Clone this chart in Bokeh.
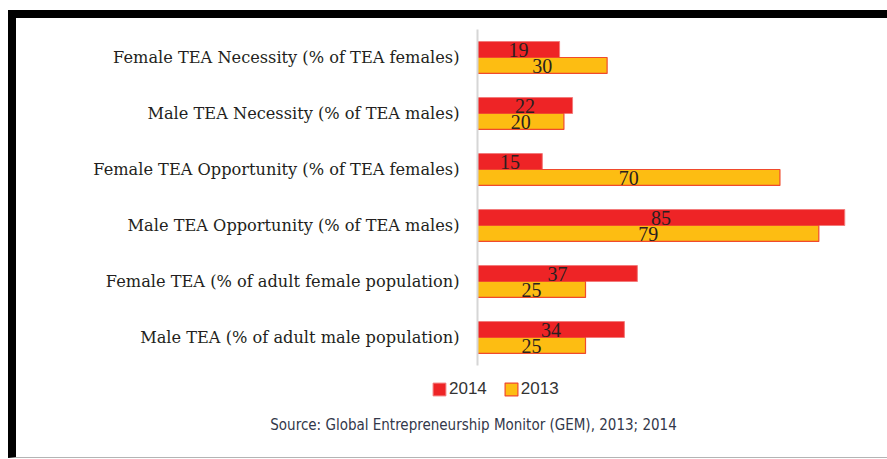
from bokeh.plotting import figure
from bokeh.layouts import column
from bokeh.models import (FactorRange, Range1d, ColumnDataSource, Legend, LegendItem, Label)
from bokeh.transform import dodge
from bokeh.core.properties import value
from bokeh.embed import file_html
from bokeh.resources import INLINE

categories = [
    "Female TEA Necessity (% of TEA females)",
    "Male TEA Necessity (% of TEA males)",
    "Female TEA Opportunity (% of TEA females)",
    "Male TEA Opportunity (% of TEA males)",
    "Female TEA (% of adult female population)",
    "Male TEA (% of adult male population)",
]
values_2014 = [19, 22, 15, 85, 37, 34]
values_2013 = [30, 20, 70, 79, 25, 25]
series_names = ["2014", "2013"]
source_text = "Source: Global Entrepreneurship Monitor (GEM), 2013; 2014"

RED = "#ee2426"
YELLOW = "#fdbd12"
EDGE = "#f04a2c"

src = ColumnDataSource(dict(
    cat=categories,
    v14=values_2014,
    v13=values_2013,
    h14=[v / 2 for v in values_2014],
    h13=[v / 2 for v in values_2013],
    t14=[str(v) for v in values_2014],
    t13=[str(v) for v in values_2013],
))

W = 871
H1, H2 = 352, 87

# ---- main bar chart ----
p = figure(width=W, height=H1, output_backend="svg", toolbar_location=None,
           x_axis_location=None,
           y_range=FactorRange(*list(reversed(categories)), range_padding=0),
           x_range=Range1d(0, 90.5),
           min_border_left=461, min_border_right=19, min_border_top=11, min_border_bottom=5)
p.frame_align = False

bw = 0.285
p.hbar(y=dodge("cat", bw / 2, range=p.y_range), right="v14", left=0, height=bw,
       source=src, fill_color=RED, line_color="#f37a7a", line_width=1)
p.hbar(y=dodge("cat", -bw / 2, range=p.y_range), right="v13", left=0, height=bw,
       source=src, fill_color=YELLOW, line_color=EDGE, line_width=1.2)

p.text(x="h14", y=dodge("cat", bw / 2 - 0.01, range=p.y_range), text="t14", source=src,
       text_align="center", text_baseline="middle", text_font=value("Liberation Serif"),
       text_font_size="20px", text_color="#2a2020")
p.text(x="h13", y=dodge("cat", -bw / 2 - 0.01, range=p.y_range), text="t13", source=src,
       text_align="center", text_baseline="middle", text_font=value("Liberation Serif"),
       text_font_size="20px", text_color="#2a2020")

p.xgrid.visible = False
p.ygrid.visible = False
p.outline_line_color = None
yax = p.yaxis[0]
yax.axis_line_color = "#d6d6d6"
yax.axis_line_width = 2
yax.major_tick_line_color = None
yax.minor_tick_line_color = None
yax.major_label_standoff = 12
yax.major_label_text_font = "DejaVu Serif"
yax.major_label_text_font_size = "16.2px"
yax.major_label_text_color = "#231f20"

# ---- legend + source strip ----
p2 = figure(width=W, height=H2, output_backend="svg", toolbar_location=None,
            x_axis_location=None, y_axis_location=None,
            x_range=Range1d(0, W), y_range=Range1d(0, H2),
            min_border_left=0, min_border_right=0, min_border_top=0, min_border_bottom=0)
p2.frame_align = False
p2.xgrid.visible = False
p2.ygrid.visible = False
p2.outline_line_color = None
key_src = ColumnDataSource(dict(y=[0], right=[0]))
g14 = p2.hbar(y="y", right="right", left=0, height=1, source=key_src,
              fill_color=RED, line_color="#f37a7a", line_width=1, visible=False)
g13 = p2.hbar(y="y", right="right", left=0, height=1, source=key_src,
              fill_color=YELLOW, line_color=EDGE, line_width=1.2, visible=False)
legend = Legend(items=[LegendItem(label=series_names[0], renderers=[g14]),
                       LegendItem(label=series_names[1], renderers=[g13])],
                location=(415, 58), orientation="horizontal",
                glyph_width=16, glyph_height=16, label_standoff=2, spacing=16,
                padding=0, margin=0, border_line_color=None, background_fill_alpha=0,
                inactive_fill_alpha=0,
                label_text_font="Liberation Sans", label_text_font_size="17px",
                label_text_color="#333333", label_height=16, label_text_baseline="middle")
p2.add_layout(legend, "center")
p2.add_layout(Label(x=457, y=33, text=source_text, text_align="center",
                    text_baseline="middle", text_font="DejaVu Sans Condensed",
                    text_font_size="15px", text_color="#33384a"))

layout = column(p, p2, spacing=0)
layout.styles = {"margin-top": "10px", "margin-left": "8px",
                 "border-top": "8px solid #000000", "border-left": "8px solid #000000",
                 "border-bottom": "1px solid #b4b4b4"}

open("out.html", "w").write(file_html(layout, INLINE))
